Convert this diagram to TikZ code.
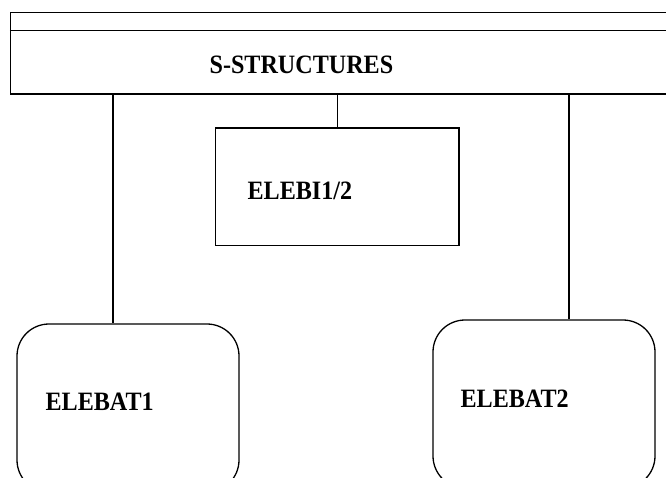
\documentclass[tikz,border=0pt]{standalone}
\usepackage{fontspec}
\setmainfont{Liberation Serif}
\newfontfamily\condfont[FakeStretch=0.91]{Liberation Serif}
\begin{document}
\begin{tikzpicture}[x=1pt,y=-1pt,line width=1.3pt,
  box/.style={draw,rectangle,inner sep=0pt},
  rbox/.style={draw,rectangle,rounded corners=32pt,inner sep=0pt},
  lbl/.style={anchor=base west,inner sep=0pt,font=\condfont\fontsize{26.5}{26.5}\selectfont\bfseries}]
\clip (0,0) rectangle (666,477);
\node[box,minimum width=669.5pt,minimum height=81.3pt] (bar) at (345.25,53.35) {};
\draw (bar.west |- 0,30.7) coordinate (il) -- (bar.east |- 0,30.7) coordinate (ir);
\node[box,minimum width=243.5pt,minimum height=117.5pt] (bi) at (337.25,186.75) {};
\node[rbox,minimum width=222pt,minimum height=168pt] (e1) at (128,408) {};
\node[rbox,minimum width=222pt,minimum height=168pt] (e2) at (544,404) {};
\node[lbl] (t0) at (209,73) {S-STRUCTURES};
\node[lbl] (t1) at (247,199) {ELEBI1/2};
\node[lbl] (t2) at (45,410) {ELEBAT1};
\node[lbl] (t3) at (460,407) {ELEBAT2};
\coordinate (cL) at (113,0);
\coordinate (cR) at (569,0);
\draw (bar.south -| cL) -- (e1.north -| cL);
\draw (bar.south -| bi.north) -- (bi.north);
\draw (bar.south -| cR) -- (e2.north -| cR);
\end{tikzpicture}
\end{document}
